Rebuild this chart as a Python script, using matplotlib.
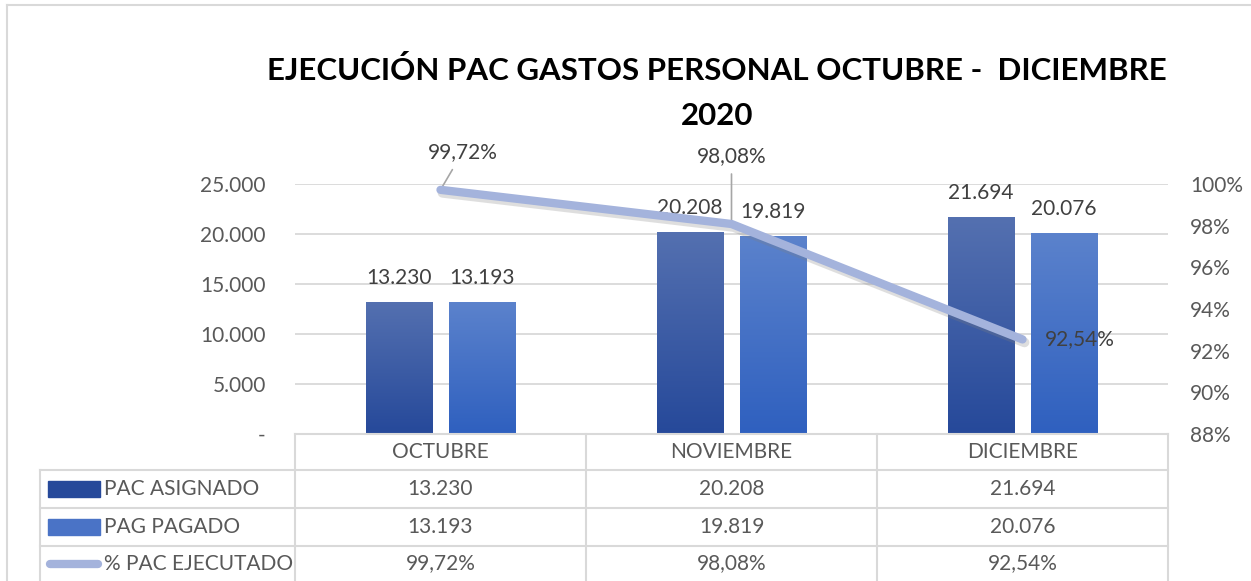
import numpy as np
import matplotlib
matplotlib.use('Agg')
import matplotlib.pyplot as plt
import matplotlib.colors as mcolors
import matplotlib.transforms as mtransforms
from matplotlib.lines import Line2D
from matplotlib.patches import Rectangle

plt.rcParams['font.family'] = ['Lato', 'DejaVu Sans']

# data
meses = ['OCTUBRE', 'NOVIEMBRE', 'DICIEMBRE']
pac_asignado = [13230, 20208, 21694]
pag_pagado = [13193, 19819, 20076]
pct_ejecutado = [99.72, 98.08, 92.54]
series_names = ['PAC ASIGNADO', 'PAG PAGADO', '% PAC EJECUTADO']
titulo = 'EJECUCIÓN PAC GASTOS PERSONAL OCTUBRE -  DICIEMBRE\n2020'

TXT = '#595959'
GRID = '#d9d9d9'
LINE_C = '#a4b3dc'
grad1 = ('#5470b0', '#26499a')   # top, bottom
grad2 = ('#5b82cc', '#2f60bf')


def miles(v):
    return f'{v:,.0f}'.replace(',', '.')


def pct(v):
    return f'{v:.2f}%'.replace('.', ',')


W, H = 1251, 581
fig = plt.figure(figsize=(W / 100, H / 100), dpi=100)
fig.patch.set_facecolor('white')
ax = fig.add_axes([295 / W, 1 - 434 / H, (1168 - 295) / W, (434 - 184) / H])
ax2 = ax.twinx()

x = np.arange(len(meses))
bw, off = 0.23, 0.1426


def grad_bars(xs, vals, cols):
    bars = ax.bar(xs, vals, bw, color=cols[1], zorder=3)
    cmap = mcolors.LinearSegmentedColormap.from_list('g', [cols[1], cols[0]])
    for b in bars:
        bx, by = b.get_x(), b.get_y()
        bwid, bh = b.get_width(), b.get_height()
        im = ax.imshow(np.linspace(0, 1, 100).reshape(-1, 1), cmap=cmap, origin='lower',
                       extent=[bx, bx + bwid, by, by + bh], aspect='auto', zorder=3.5)
        im.set_clip_path(b)
    return bars


b1 = grad_bars(x - off, pac_asignado, grad1)
b2 = grad_bars(x + off, pag_pagado, grad2)
ax.set_xlim(-0.5, len(meses) - 0.5)
ax.set_ylim(0, 25000)

for xs, vals in ((x - off, pac_asignado), (x + off, pag_pagado)):
    for xi, v in zip(xs, vals):
        ax.annotate(miles(v), (xi, v), xytext=(0, 10), textcoords='offset points',
                    ha='center', va='bottom', fontsize=15, color='#404040', zorder=6)

ax.set_yticks(np.arange(0, 25001, 5000))
ax.set_yticklabels(['-' if v == 0 else miles(v) for v in np.arange(0, 25001, 5000)])
ax.yaxis.grid(True, color=GRID, lw=1.3, zorder=0)
ax.set_axisbelow(True)
ax.tick_params(axis='y', length=0, pad=21, labelsize=15, labelcolor=TXT)
ax.set_xticks([])
for s in ax.spines.values():
    s.set_visible(False)

# line on secondary axis
ax2.set_ylim(88, 100)
ax2.set_yticks(np.arange(88, 101, 2))
ax2.set_yticklabels([f'{v}%' for v in range(88, 101, 2)])
ax2.tick_params(axis='y', length=0, pad=16, labelsize=15, labelcolor=TXT)
for s in ax2.spines.values():
    s.set_visible(False)
ax2.plot(x, pct_ejecutado, color='#7f7f7f', lw=7, alpha=0.25, solid_capstyle='round',
         transform=ax2.transData + mtransforms.ScaledTranslation(2 / 100, -3 / 100, fig.dpi_scale_trans),
         zorder=4)
ax2.plot(x, pct_ejecutado, color=LINE_C, lw=6, solid_capstyle='round', zorder=5)

# labels for the percentage line (with leader lines for first two)
lab_off = [(16, 20), (0, 42), (16, 0)]
for xi, v, (dx, dy) in zip(x, pct_ejecutado, lab_off):
    if dy > 0:
        ax2.annotate(pct(v), (xi, v), xytext=(dx, dy), textcoords='offset points',
                     ha='center', va='bottom', fontsize=15, color='#404040',
                     arrowprops=dict(arrowstyle='-', color='#a6a6a6', lw=1.2, shrinkA=4, shrinkB=0))
    else:
        ax2.annotate(pct(v), (xi, v), xytext=(dx, 0), textcoords='offset points',
                     ha='left', va='center', fontsize=15, color='#404040')

# data table below the axes
tr = mtransforms.blended_transform_factory(ax.transData, fig.transFigure)
def fy(py):
    return 1 - py / H

x_left = -0.5 - (295 - 40) / (1168 - 295) * 3
rows_y = [434, 470, 508, 546, 581]
kw = dict(color=GRID, lw=1.5, transform=tr, clip_on=False)
for c in np.arange(-0.5, len(meses)):
    fig.add_artist(Line2D([c, c], [fy(434), fy(581)], **kw))
fig.add_artist(Line2D([-0.5, len(meses) - 0.5], [fy(434), fy(434)], **kw))
for ry in rows_y[1:4]:
    fig.add_artist(Line2D([x_left, len(meses) - 0.5], [fy(ry), fy(ry)], **kw))
fig.add_artist(Line2D([x_left, x_left], [fy(470), fy(581)], **kw))

for xi, m in zip(x, meses):
    fig.text(xi, fy(452), m, transform=tr, ha='center', va='center', fontsize=15, color=TXT)
table_vals = [[miles(v) for v in pac_asignado], [miles(v) for v in pag_pagado],
              [pct(v) for v in pct_ejecutado]]
for r, vals in enumerate(table_vals):
    yc = fy((rows_y[r + 1] + rows_y[r + 2]) / 2)
    for xi, t in zip(x, vals):
        fig.text(xi, yc, t, transform=tr, ha='center', va='center', fontsize=15, color=TXT)
    fig.text(104 / W, yc, series_names[r], ha='left', va='center', fontsize=15, color=TXT)

# legend keys inside the table
for r, cols in enumerate((grad1, grad2)):
    yc = (rows_y[r + 1] + rows_y[r + 2]) / 2
    fig.add_artist(Rectangle((48 / W, 1 - (yc + 8) / H), 52 / W, 16 / H,
                             transform=fig.transFigure, color=cols[1] if r == 0 else '#4a73c6'))
yc = (rows_y[3] + rows_y[4]) / 2
fig.add_artist(Line2D([50 / W, 98 / W], [fy(yc), fy(yc)], color=LINE_C, lw=6,
                      solid_capstyle='round', transform=fig.transFigure))

# outer border
fig.add_artist(Line2D([7 / W, 7 / W], [0, fy(5)], color=GRID, lw=1.5, transform=fig.transFigure))
fig.add_artist(Line2D([7 / W, 1], [fy(5), fy(5)], color=GRID, lw=1.5, transform=fig.transFigure))

fig.text(717 / W, fy(93), titulo, ha='center', va='center', fontsize=22.5, fontweight='bold',
         color='black', linespacing=1.75)

fig.savefig('out.png', dpi=100)
